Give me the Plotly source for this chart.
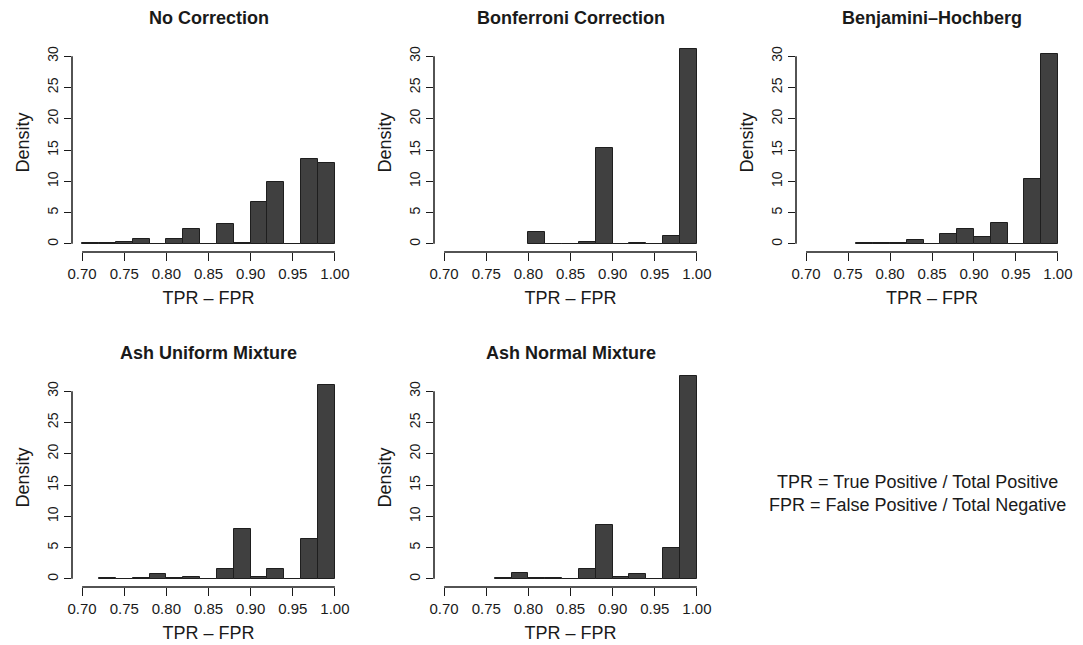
import plotly.graph_objects as go

# ---- data ----
bin_left = [0.70, 0.72, 0.74, 0.76, 0.78, 0.80, 0.82, 0.84, 0.86, 0.88,
            0.90, 0.92, 0.94, 0.96, 0.98]
bin_width = 0.02

titles = ["No Correction", "Bonferroni Correction", "Benjamini\u2013Hochberg",
          "Ash Uniform Mixture", "Ash Normal Mixture"]

dens_none = [0.1, 0.1, 0.25, 0.8, 0.05, 0.75, 2.3, 0.05, 3.15, 0.1,
             6.7, 9.85, 0.05, 13.5, 12.95]
dens_bonf = [None, None, None, None, None, 1.95, 0.05, 0.03, 0.35, 15.3,
             0.03, 0.08, 0.03, 1.3, 31.2]
dens_bh = [None, None, None, 0.1, 0.2, 0.1, 0.6, 0.05, 1.65, 2.4,
           1.15, 3.35, 0.05, 10.4, 30.4]
dens_ash_unif = [None, 0.1, 0.05, 0.1, 0.85, 0.1, 0.25, 0.05, 1.55, 8.05,
                 0.3, 1.55, 0.05, 6.35, 31.05]
dens_ash_norm = [None, None, None, 0.1, 1.0, 0.1, 0.15, 0.05, 1.65, 8.6,
                 0.35, 0.7, 0.05, 4.9, 32.4]

panels = [dens_none, dens_bonf, dens_bh, dens_ash_unif, dens_ash_norm]

x_ticks = [0.70, 0.75, 0.80, 0.85, 0.90, 0.95, 1.00]
y_ticks = [0, 5, 10, 15, 20, 25, 30]
x_label = "TPR \u2013 FPR"
y_label = "Density"
note_lines = ["TPR = True Positive / Total Positive",
              "FPR = False Positive / Total Negative"]

# ---- layout geometry (pixels of the 1083x645 window) ----
OFF = 8                      # page body margin of the html page
W, H = 1083 - OFF, 645 - OFF  # figure size so it ends at the window edge
FONT = "Liberation Sans, Arial, Helvetica, sans-serif"
TXT = "#1a1a1a"
# plot areas in window pixels: (left, right, top, bottom)
boxes = [(72, 345, 33, 252), (434, 707, 33, 252), (796, 1068, 33, 252),
         (72, 345, 368, 587), (434, 707, 368, 587)]

xr = [0.688, 1.012]
yr = [-1.3, 33.7]


def fx(px):
    return (px - OFF) / W


def fy(py):
    return 1 - (py - OFF) / H


def px_x(v, l, r):
    return fx(l + (v - xr[0]) / (xr[1] - xr[0]) * (r - l))


def px_y(v, t, b):
    return fy(b - (v - yr[0]) / (yr[1] - yr[0]) * (b - t))


fig = go.Figure()
layout = dict(width=W, height=H, margin=dict(l=0, r=0, t=0, b=0),
              paper_bgcolor="white", plot_bgcolor="white", showlegend=False,
              bargap=0, font=dict(family=FONT, color=TXT))
shapes = []
annotations = []

for i, (dens, box) in enumerate(zip(panels, boxes)):
    n = i + 1
    xa = "x" if n == 1 else f"x{n}"
    ya = "y" if n == 1 else f"y{n}"
    xs = [b for b, d in zip(bin_left, dens) if d is not None]
    ys = [d for d in dens if d is not None]
    fig.add_trace(go.Bar(x=xs, y=ys, width=bin_width, offset=0,
                         marker=dict(color="#404040",
                                     line=dict(color="#1e1e1e", width=1)),
                         xaxis=xa, yaxis=ya, hoverinfo="x+y"))
    l, r, t, b = box
    xkey = "xaxis" if n == 1 else f"xaxis{n}"
    ykey = "yaxis" if n == 1 else f"yaxis{n}"
    layout[xkey] = dict(domain=[fx(l), fx(r)], anchor=ya, range=xr,
                        automargin=False,
                        tickmode="array", tickvals=x_ticks,
                        ticktext=[f"{v:.2f}" for v in x_ticks],
                        ticks="outside", ticklen=8, tickwidth=1.3,
                        tickcolor=TXT, showline=False, showgrid=False,
                        zeroline=False, ticklabelstandoff=0,
                        tickfont=dict(size=15, color=TXT),
                        title=dict(text=x_label, font=dict(size=18, color=TXT),
                                   standoff=10))
    layout[ykey] = dict(domain=[fy(b), fy(t)], anchor=xa, range=yr,
                        automargin=False,
                        tickmode="array", tickvals=y_ticks,
                        ticktext=[str(v) for v in y_ticks],
                        ticks="outside", ticklen=7, tickwidth=1.3,
                        tickcolor=TXT, showline=False, showgrid=False,
                        zeroline=False, tickangle=-90, ticklabelstandoff=0,
                        tickfont=dict(size=14, color=TXT),
                        title=dict(text=y_label, font=dict(size=18, color=TXT),
                                   standoff=11))
    # R-style axis lines spanning only the tick range
    shapes.append(dict(type="line", xref="paper", yref="paper",
                       x0=px_x(x_ticks[0], l, r), x1=px_x(x_ticks[-1], l, r),
                       y0=fy(b), y1=fy(b),
                       line=dict(color=TXT, width=1.5)))
    shapes.append(dict(type="line", xref="paper", yref="paper",
                       x0=fx(l), x1=fx(l),
                       y0=px_y(y_ticks[0], t, b), y1=px_y(y_ticks[-1], t, b),
                       line=dict(color=TXT, width=1.5)))
    ty = 18 if t < 100 else 353
    annotations.append(dict(text=f"<b>{titles[i]}</b>", xref="paper", yref="paper",
                            x=fx((l + r) / 2), y=fy(ty), xanchor="center",
                            yanchor="middle", showarrow=False,
                            font=dict(size=18, color=TXT)))

annotations.append(dict(text="<br>".join(note_lines), xref="paper", yref="paper",
                        x=fx(917), y=fy(493), xanchor="center",
                        yanchor="middle", align="center", showarrow=False,
                        font=dict(size=18, color=TXT)))

layout["shapes"] = shapes
layout["annotations"] = annotations
fig.update_layout(**layout)
fig.write_html("out.html")
